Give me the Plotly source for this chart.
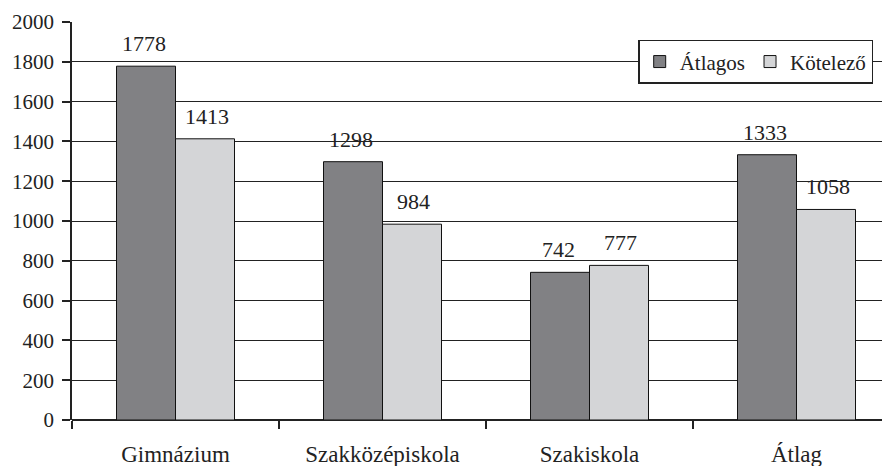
import plotly.graph_objects as go

categories = ["Gimnázium", "Szakközépiskola", "Szakiskola", "Átlag"]
atlagos = [1778, 1298, 742, 1333]
kotelezo = [1413, 984, 777, 1058]
series_names = ["Átlagos", "Kötelező"]
y_ticks = list(range(0, 2001, 200))

FONT = "Liberation Serif"
DARK = "#818184"
LIGHT = "#d4d5d7"
TXT = "#222"

fig = go.Figure()
fig.add_trace(go.Bar(name=series_names[0], x=categories, y=atlagos,
                     marker=dict(color=DARK, line=dict(color="#111", width=1))))
fig.add_trace(go.Bar(name=series_names[1], x=categories, y=kotelezo,
                     marker=dict(color=LIGHT, line=dict(color="#111", width=1))))

annotations = []
for i, c in enumerate(categories):
    for off, vals in ((-0.15, atlagos), (0.15, kotelezo)):
        annotations.append(dict(x=i + off, y=vals[i], xref="x", yref="y",
                                text=str(vals[i]), showarrow=False,
                                yanchor="bottom", yshift=8,
                                font=dict(family=FONT, size=22, color=TXT)))

fig.update_layout(
    width=882, height=466,
    margin=dict(l=72, r=0, t=22, b=46, autoexpand=False),
    paper_bgcolor="white", plot_bgcolor="white",
    barmode="group", bargap=0.43, bargroupgap=0,
    font=dict(family=FONT, size=21, color=TXT),
    legend=dict(orientation="h", x=0.699, y=0.955, xanchor="left", yanchor="top",
                bgcolor="white", bordercolor=TXT, borderwidth=1.5,
                font=dict(family=FONT, size=21, color=TXT),
                traceorder="normal", itemwidth=30),
    annotations=annotations,
    xaxis=dict(type="category", range=[-0.5, 3.413], showline=False,
               ticks="outside", tickson="boundaries", ticklen=8, tickwidth=1.5,
               tickcolor=TXT, showgrid=False, tickfont=dict(size=23, family=FONT),
               ticklabelstandoff=18),
    yaxis=dict(range=[0, 2000], tickvals=y_ticks, showline=True, linecolor=TXT,
               linewidth=1.5, ticks="outside", ticklen=8, tickwidth=1.5, tickcolor=TXT,
               showgrid=True, gridcolor=TXT, gridwidth=1, zeroline=True,
               zerolinecolor=TXT, zerolinewidth=1.5, tickfont=dict(size=21, family=FONT),
               ticklabelstandoff=4),
)

fig.write_html("out.html", config={"displayModeBar": False},
               post_script="document.body.style.margin='0';document.body.style.overflow='hidden';")
